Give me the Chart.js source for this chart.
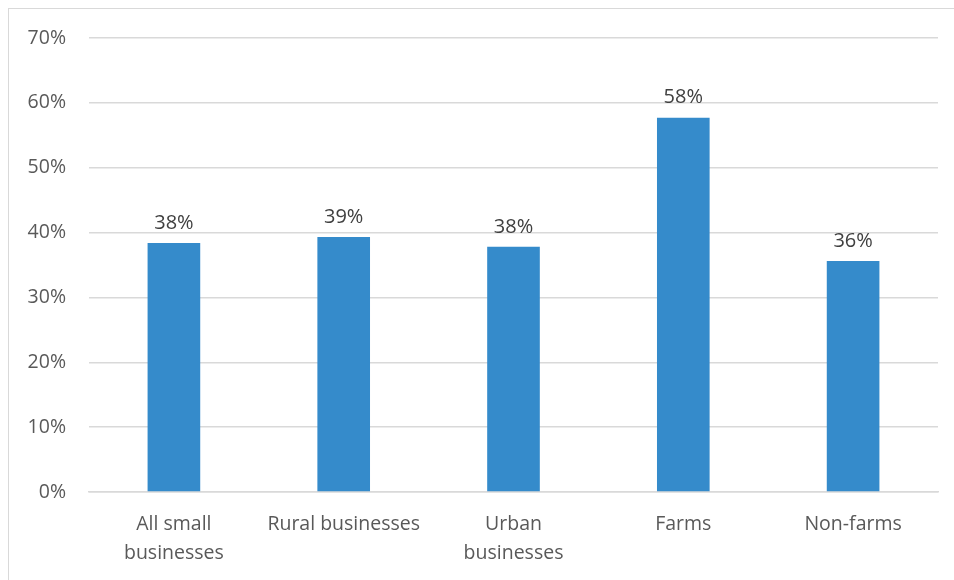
<!DOCTYPE html>
<html>
<head>
<meta charset="utf-8">
<script src="https://cdn.jsdelivr.net/npm/chart.js@4"></script>
<style>
  body { margin: 0; background: #fff; }
  #frame { position: absolute; left: 8px; top: 8px; width: 960px; height: 590px; border: 1px solid #d9d9d9; }
  #wrap { position: absolute; left: 0; top: 0; width: 954px; height: 580px; }
</style>
</head>
<body>
<div id="frame"></div>
<div id="wrap"><canvas id="chart"></canvas></div>
<script>
// 데이터
let categories = [["All small", "businesses"], "Rural businesses", ["Urban", "businesses"], "Farms", "Non-farms"];
let values = [38.4, 39.3, 37.8, 57.7, 35.6];
let yTicks = [0, 10, 20, 30, 40, 50, 60, 70];

let fontFamily = "'Open Sans', 'Liberation Sans', sans-serif";

// 막대 위에 % 값 쓰기
let valueLabels = {
  id: "valueLabels",
  afterDatasetsDraw(chart) {
    let ctx = chart.ctx;
    let meta = chart.getDatasetMeta(0);
    ctx.save();
    ctx.font = "20px " + fontFamily;
    ctx.fillStyle = "#404040";
    ctx.textAlign = "center";
    ctx.textBaseline = "bottom";
    meta.data.forEach((bar, i) => {
      ctx.fillText(Math.round(values[i]) + "%", bar.x, bar.y - 10);
    });
    ctx.restore();
  },
};

let chart = new Chart(document.querySelector("#chart"), {
  type: "bar",
  data: {
    labels: categories,
    datasets: [
      {
        data: values,
        backgroundColor: "#358bcb",
        barPercentage: 0.31,
        categoryPercentage: 1,
      },
    ],
  },
  options: {
    responsive: true,
    maintainAspectRatio: false,
    animation: false,
    layout: { padding: { left: 0, right: 16, top: 38, bottom: 0 } },
    plugins: { legend: { display: false }, tooltip: { enabled: false } },
    scales: {
      x: {
        grid: { display: false },
        border: { color: "#d9d9d9", width: 1.5 },
        ticks: {
          color: "#595959",
          font: { size: 19.5, family: fontFamily, lineHeight: 1.48 },
          padding: 10,
          maxRotation: 0,
        },
        afterFit(scale) { scale.height = 88; },
      },
      y: {
        min: 0,
        max: 70,
        afterBuildTicks(scale) { scale.ticks = yTicks.map((v) => ({ value: v })); },
        grid: { color: "#d9d9d9", lineWidth: 1.5, drawTicks: false },
        border: { display: false },
        ticks: {
          color: "#595959",
          font: { size: 19.5, family: fontFamily },
          padding: 23,
          callback: (v) => v + "%",
        },
        afterFit(scale) { scale.width = 89; },
      },
    },
  },
  plugins: [valueLabels],
});
</script>
</body>
</html>
